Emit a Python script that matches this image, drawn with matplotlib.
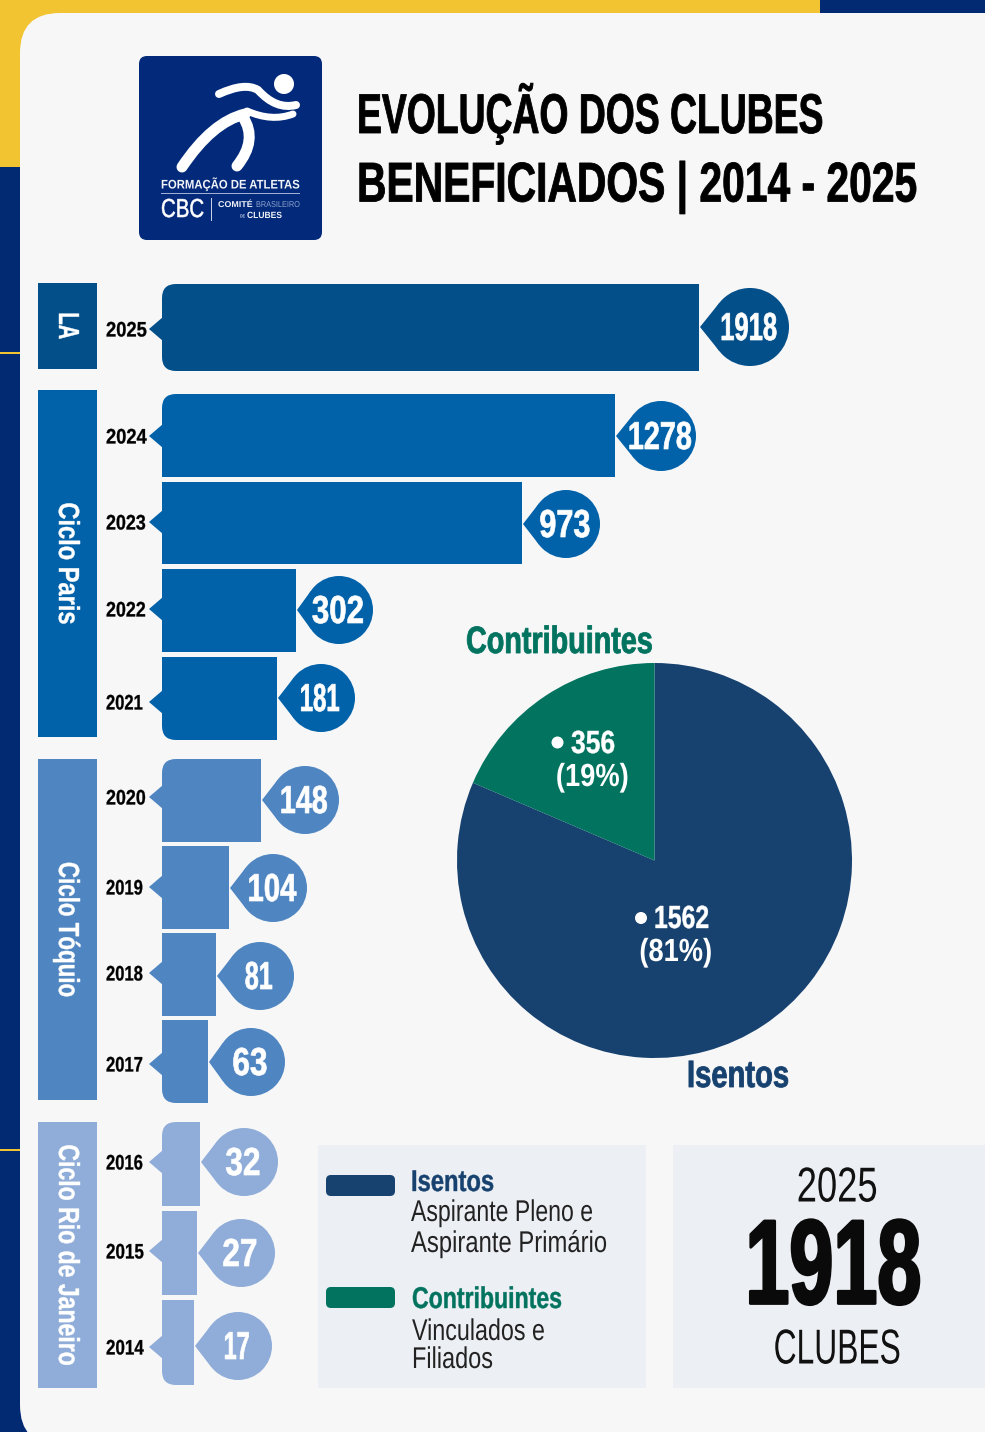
"""
Clubes beneficiados 2014-2025, infographic redrawn in pixel coordinates.
"""
import matplotlib
matplotlib.use("Agg")
import matplotlib.pyplot as plt
from matplotlib.patches import Circle, FancyBboxPatch, PathPatch, Polygon, Rectangle
from matplotlib.patheffects import AbstractPathEffect
from matplotlib.path import Path
from matplotlib.transforms import Affine2D
import numpy as np

W, H = 985, 1432

# data
years = [2025, 2024, 2023, 2022, 2021, 2020, 2019, 2018, 2017, 2016, 2015, 2014]
clubes = [1918, 1278, 973, 302, 181, 148, 104, 81, 63, 32, 27, 17]
# the bars are not to scale in the original, so lengths are read off separately
bar_lengths = [537, 453, 360, 134, 115, 99, 67, 54, 46, 38, 35, 32]
ciclos = ["LA", "Ciclo Paris", "Ciclo Tóquio", "Ciclo Rio de Janeiro"]
pie_labels = ["Isentos", "Contribuintes"]
pie_values = [1562, 356]
pie_pct = ["(81%)", "(19%)"]

# layout
bar_x0 = 162
bar_top = [284, 394, 482, 569, 657, 759, 846, 933, 1020, 1122, 1211, 1300]
bar_bot = [371, 477, 564, 652, 740, 842, 929, 1016, 1103, 1206, 1295, 1385]
tip_y = [329, 436, 522, 609, 702, 797, 887, 973, 1064, 1162, 1251, 1347]
bubble_y = [327, 436, 524, 610, 698, 800, 888, 976, 1062, 1162, 1253, 1346]
bubble_r = [39, 35, 34, 34, 34, 34, 34, 34, 34, 34, 34, 34]
bubble_dx = [51, 46, 44, 43, 44, 44, 44, 44, 43, 44, 44, 44]
value_w = [57, 64, 51, 52, 40, 48, 49, 28, 35, 35, 35, 26]
year_w = [41, 41, 40, 40, 37, 40, 37, 37, 37, 37, 38, 38]
round_top = [2025, 2024, 2020, 2016]
round_bot = [2025, 2021, 2017, 2014]
band_y = [(283, 369), (390, 737), (759, 1100), (1122, 1388)]
band_len = [27, 122, 135, 221]

NAVY = "#012a73"
YELLOW = "#f3c431"
CARD = "#f7f7f8"
BOX = "#eceff3"
DARK = "#17426f"
GREEN = "#01735f"
C_LA = "#034f8a"
C_PARIS = "#0262a9"
C_TOQUIO = "#4f86c2"
C_RIO = "#8fadd8"
row_colors = [C_LA] + [C_PARIS] * 4 + [C_TOQUIO] * 4 + [C_RIO] * 3
band_colors = [C_LA, C_PARIS, C_TOQUIO, C_RIO]
FONT = ["Liberation Sans"]


class Squeeze(AbstractPathEffect):
    # the original font is condensed, so narrow the glyphs along the reading direction
    def __init__(self, sx=1.0, sy=1.0, center=False, stroke=0.0):
        super().__init__()
        self.sx, self.sy, self.center, self.stroke = sx, sy, center, stroke

    def draw_path(self, renderer, gc, tpath, affine, rgbFace=None):
        xs = tpath.vertices[:, 0]
        cx = (xs.min() + xs.max()) / 2 if self.center and len(xs) else 0
        tr = Affine2D().translate(-cx, 0).scale(self.sx, self.sy).translate(cx, 0)
        gc0 = renderer.new_gc()
        gc0.copy_properties(gc)
        gc0.set_linewidth(self.stroke)
        renderer.draw_path(gc0, tpath, tr + affine, rgbFace)
        gc0.restore()


fig = plt.figure(figsize=(W / 100, H / 100), dpi=100, facecolor=NAVY)
ax = fig.add_axes([0, 0, 1, 1])
renderer = fig.canvas.get_renderer()


def label(x, y, s, px, color="black", weight="bold", ha="left", va="center",
          w=None, sx=1.0, sy=1.0, stroke=0.0, rot=0, z=10):
    if va == "center" and rot == 0:
        y += 2  # centre of the text box sits a little above the centre of the digits
    t = ax.text(x, y, s, fontsize=px * 0.72, color=color, fontweight=weight,
                family=FONT, ha=ha, va=va, rotation=rot, zorder=z)
    if w is not None:
        box = t.get_window_extent(renderer)
        sx = w / max(box.width, box.height)
    t.set_path_effects([Squeeze(sx, sy, ha == "center", stroke)])
    return t


def rounded_path(x0, y0, x1, y1, rt, rb):
    verts = [(x0 + rt, y0), (x1, y0), (x1, y1), (x0 + rb, y1), (x0, y1), (x0, y1 - rb),
             (x0, y0 + rt), (x0, y0), (x0 + rt, y0), (x0 + rt, y0)]
    codes = [Path.MOVETO, Path.LINETO, Path.LINETO, Path.LINETO, Path.CURVE3, Path.CURVE3,
             Path.LINETO, Path.CURVE3, Path.CURVE3, Path.CLOSEPOLY]
    return Path(verts, codes)


# frame
ax.add_patch(Rectangle((0, 0), 820, 13, color=YELLOW, lw=0))
ax.add_patch(Rectangle((0, 0), 20, 167, color=YELLOW, lw=0))
ax.add_patch(Rectangle((20, 13), 45, 45, color=YELLOW, lw=0))
for yl in [352.5, 1150]:
    ax.add_patch(Rectangle((0, yl - 1), 20, 2, color=YELLOW, lw=0))
ax.add_patch(FancyBboxPatch((60, 53), 950, 1352, boxstyle="round,pad=40,rounding_size=40",
                            fc=CARD, ec="none"))

# logo
ax.add_patch(FancyBboxPatch((147, 64), 167, 168, boxstyle="round,pad=8,rounding_size=8",
                            fc="#02297a", ec="none"))
ax.add_patch(Circle((284, 84), 10, color="white", lw=0))
runner = [
    ([(219, 94), (245, 82), (258, 90), (276, 110), (296, 105)], 8),
    ([(247, 111), (272, 122), (293, 114)], 7),
    ([(182, 167), (212, 122), (245, 114)], 11),
    ([(237, 166), (258, 140), (243, 117)], 11),
]
for pts, lw in runner:
    if len(pts) == 5:
        codes = [Path.MOVETO, Path.CURVE3, Path.CURVE3, Path.CURVE3, Path.CURVE3]
    else:
        codes = [Path.MOVETO, Path.CURVE3, Path.CURVE3]
    ax.add_patch(PathPatch(Path(pts, codes), fc="none", ec="white", lw=lw * 0.72,
                           capstyle="round"))
label(161, 182, "FORMAÇÃO DE ATLETAS", 12.5, "#f2f4f8", w=139)
ax.add_patch(Rectangle((161, 193), 139, 1, color="#9fb0d4", lw=0))
label(161, 208, "CBC", 26, "white", weight="normal", w=43, stroke=0.4)
ax.add_patch(Rectangle((210.5, 198), 1, 23, color="#c8d2e6", lw=0))
label(218, 203.5, "COMITÉ", 8.5, "#eef1f7", w=35)
label(256, 203.5, "BRASILEIRO", 8.5, "#8ea3cc", weight="normal", w=44)
label(240, 214, "DE", 4.5, "#c8d2e6", w=5)
label(247, 213.5, "CLUBES", 9, "#eef1f7", w=35)

# title, set small and stretched up so its box stays on the canvas
label(357, 133, "EVOLUÇÃO DOS CLUBES", 34, va="baseline", w=466, sy=56 / 34, stroke=0.6)
label(357, 201.5, "BENEFICIADOS | 2014 - 2025", 34, va="baseline", w=560, sy=56 / 34, stroke=0.6)

# cycle bands
for name, (y0, y1), col, ln in zip(ciclos, band_y, band_colors, band_len):
    ax.add_patch(Rectangle((38, y0), 59, y1 - y0, color=col, lw=0))
    label(67, (y0 + y1) / 2, name, 29, "white", ha="center", rot=-90, w=ln, stroke=0.3)

# bars
tops, bots = np.array(bar_top), np.array(bar_bot)
bars = ax.barh((tops + bots) / 2, bar_lengths, height=bots - tops, left=bar_x0,
               color=row_colors, lw=0, zorder=3)
for i, yr in enumerate(years):
    x1 = bar_x0 + bar_lengths[i]
    rt = 14 if yr in round_top else 0
    rb = 14 if yr in round_bot else 0
    if rt or rb:
        clip = rounded_path(bar_x0, bar_top[i], x1, bar_bot[i], rt, rb)
        bars[i].set_clip_path(clip, ax.transData)
    col = row_colors[i]

    # pointer on the year side
    ax.add_patch(Polygon([(bar_x0 - 13, tip_y[i]), (bar_x0 + 1, tip_y[i] - 12),
                          (bar_x0 + 1, tip_y[i] + 12)], closed=True, color=col, lw=0, zorder=3))
    label(106, tip_y[i], str(yr), 21, w=year_w[i], stroke=0.2)

    # value bubble with a tip pointing at the bar
    cx, cy, r = x1 + bubble_dx[i], bubble_y[i], bubble_r[i]
    tip = cx - (x1 + 1)
    ang = np.arccos(r / tip)
    ax.add_patch(Polygon([(x1 + 1, cy),
                          (cx - r * np.cos(ang), cy - r * np.sin(ang)),
                          (cx - r * np.cos(ang), cy + r * np.sin(ang))],
                         closed=True, color=col, lw=0, zorder=4))
    ax.add_patch(Circle((cx, cy), r, color=col, lw=0, zorder=4))
    label(cx - 1, cy + 1, str(clubes[i]), 39, "white", ha="center", w=value_w[i], stroke=0.5)

# pie
wedges, _ = ax.pie(pie_values, colors=[DARK, GREEN], startangle=-90, counterclock=True,
                   center=(654.5, 860.5), radius=197.5, frame=True)
for wd in wedges:
    wd.set_linewidth(0)
    wd.set_zorder(5)
label(466, 641, pie_labels[1], 38, GREEN, w=187, stroke=0.6)
label(687, 1075, pie_labels[0], 38, DARK, w=102, stroke=0.6)
ax.add_patch(Circle((557.5, 742.5), 6, color="white", lw=0, zorder=6))
label(571, 743, str(pie_values[1]), 32, "white", w=44, stroke=0.3)
label(592.5, 776, pie_pct[1], 32, "white", ha="center", w=73)
ax.add_patch(Circle((641, 918), 6, color="white", lw=0, zorder=6))
label(654, 918, str(pie_values[0]), 32, "white", w=55, stroke=0.3)
label(676, 951, pie_pct[0], 32, "white", ha="center", w=73)

# legend box
ax.add_patch(Rectangle((318, 1145), 328, 243, color=BOX, lw=0))
ax.add_patch(Rectangle((673, 1145), 312, 243, color=BOX, lw=0))
ax.add_patch(FancyBboxPatch((331, 1180), 59, 11, boxstyle="round,pad=5,rounding_size=5",
                            fc=DARK, ec="none"))
ax.add_patch(FancyBboxPatch((331, 1292), 59, 11, boxstyle="round,pad=5,rounding_size=5",
                            fc=GREEN, ec="none"))
label(411, 1181, pie_labels[0], 30, DARK, w=83, stroke=0.3)
label(411, 1211, "Aspirante Pleno e", 30, "#222222", weight="normal", w=182)
label(411, 1242, "Aspirante Primário", 30, "#222222", weight="normal", w=196)
label(412, 1298, pie_labels[1], 30, GREEN, w=150, stroke=0.3)
label(412, 1330, "Vinculados e", 30, "#222222", weight="normal", w=133)
label(412, 1358, "Filiados", 30, "#222222", weight="normal", w=81)

# total box
label(837.5, 1187, "2025", 49, "#111111", weight="normal", ha="center", w=81)
label(834, 1270, str(clubes[0]), 120, "#0a0a0a", ha="center", w=176, stroke=2.0)
label(837.5, 1349, "CLUBES", 49, "#111111", weight="normal", ha="center", w=127)

ax.set_xlim(0, W)
ax.set_ylim(H, 0)
ax.set_aspect("auto")
ax.axis("off")
fig.savefig("out.png", dpi=100, facecolor=NAVY)
